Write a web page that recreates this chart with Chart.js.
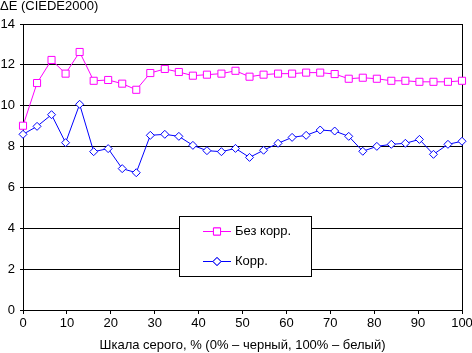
<!DOCTYPE html>
<html>
<head>
<meta charset="utf-8">
<script src="https://cdn.jsdelivr.net/npm/chart.js@4/dist/chart.umd.min.js"></script>
<style>
  html, body { margin: 0; padding: 0; background: #fff; }
  #wrap { width: 472px; height: 353px; }
</style>
</head>
<body>
<div id="wrap"><canvas id="chart" width="472" height="353"></canvas></div>
<script>
// уровни серого, % (32 шага)
const grayLevels = [0, 3.2, 6.5, 9.7, 12.9, 16.1, 19.4, 22.6, 25.8, 29.0, 32.3, 35.5,
  38.7, 41.9, 45.2, 48.4, 51.6, 54.8, 58.1, 61.3, 64.5, 67.7, 71.0, 74.2,
  77.4, 80.6, 83.9, 87.1, 90.3, 93.5, 96.8, 100];

// ΔE без коррекции
const noCorr = [9.02, 11.11, 12.24, 11.57, 12.63, 11.22, 11.26, 11.08, 10.78, 11.60, 11.80, 11.65,
  11.47, 11.52, 11.57, 11.71, 11.42, 11.52, 11.57, 11.57, 11.62, 11.62, 11.55, 11.32,
  11.37, 11.32, 11.22, 11.22, 11.17, 11.17, 11.17, 11.22];

// ΔE с коррекцией
const withCorr = [8.60, 8.99, 9.56, 8.19, 10.07, 7.75, 7.90, 6.92, 6.72, 8.55, 8.60, 8.50,
  8.06, 7.80, 7.75, 7.91, 7.47, 7.82, 8.16, 8.45, 8.55, 8.81, 8.76, 8.50,
  7.77, 8.01, 8.11, 8.16, 8.35, 7.62, 8.11, 8.26];

const seriesNames = ["Без корр.", "Корр."];
const xTicks = [0, 10, 20, 30, 40, 50, 60, 70, 80, 90, 100];
const yTicks = [0, 2, 4, 6, 8, 10, 12, 14];

const FONT = "'Liberation Sans', Arial, sans-serif";

const pts = (vals) => vals.map((v, i) => ({ x: grayLevels[i], y: v }));

// легенда в рамке внутри области графика
const boxLegend = {
  id: "boxLegend",
  afterDraw(chart) {
    const ctx = chart.ctx;
    const bx = 179.5, by = 216.5, bw = 132, bh = 60;
    ctx.save();
    ctx.fillStyle = "#fff";
    ctx.fillRect(bx, by, bw, bh);
    ctx.strokeStyle = "#000";
    ctx.lineWidth = 1;
    ctx.strokeRect(bx, by, bw, bh);
    const rows = [231.5, 261.5];
    chart.data.datasets.forEach((ds, i) => {
      const y = rows[i];
      ctx.strokeStyle = ds.borderColor;
      ctx.lineWidth = 1;
      ctx.beginPath();
      ctx.moveTo(203, y);
      ctx.lineTo(231, y);
      ctx.stroke();
      Chart.helpers.drawPoint(ctx, {
        pointStyle: ds.pointStyle,
        radius: ds.pointRadius,
        borderWidth: 1,
        rotation: 0
      }, 217, y);
      ctx.fillStyle = "#fff";
      ctx.fill();
      ctx.stroke();
      ctx.fillStyle = "#000";
      ctx.font = "13px " + FONT;
      ctx.textBaseline = "middle";
      ctx.textAlign = "left";
      ctx.fillText(ds.label, 235, y);
    });
    ctx.restore();
  }
};

new Chart(document.getElementById("chart"), {
  type: "line",
  data: {
    datasets: [
      {
        label: seriesNames[0],
        data: pts(noCorr),
        borderColor: "#ff00ff",
        borderWidth: 1,
        pointStyle: "rect",
        pointRadius: 5,
        pointBorderWidth: 1,
        pointBackgroundColor: "#fff",
        pointBorderColor: "#ff00ff",
        tension: 0,
        clip: false
      },
      {
        label: seriesNames[1],
        data: pts(withCorr),
        borderColor: "#0000ff",
        borderWidth: 1,
        pointStyle: "rectRot",
        pointRadius: 4,
        pointBorderWidth: 1,
        pointBackgroundColor: "#fff",
        pointBorderColor: "#0000ff",
        tension: 0,
        clip: false
      }
    ]
  },
  options: {
    responsive: false,
    animation: false,
    layout: { padding: { top: 0, right: 10, bottom: 0, left: 0 } },
    plugins: {
      legend: { display: false },
      tooltip: { enabled: false },
      title: {
        display: true,
        text: "ΔE (CIEDE2000)",
        align: "start",
        color: "#000",
        font: { family: FONT, size: 13, weight: "normal", lineHeight: 1 },
        padding: { top: 0, bottom: 11 }
      }
    },
    scales: {
      x: {
        type: "linear",
        min: 0,
        max: 100,
        afterBuildTicks(s) { s.ticks = xTicks.map(v => ({ value: v })); },
        afterFit(s) { s.height = 43; s.paddingLeft = 0; s.paddingRight = 0; },
        border: { display: true, color: "#000", width: 1 },
        grid: {
          drawOnChartArea: true,
          color: (c) => (c.tick && c.tick.value === 100 ? "#000" : "rgba(0,0,0,0)"),
          tickColor: "#000",
          tickLength: 4
        },
        ticks: {
          color: "#000",
          padding: 2,
          maxRotation: 0,
          font: { family: FONT, size: 13 }
        },
        title: {
          display: true,
          text: "Шкала серого, % (0% – черный, 100% – белый)",
          color: "#000",
          font: { family: FONT, size: 13 },
          padding: { top: 0, bottom: 0 }
        }
      },
      y: {
        min: 0,
        max: 14,
        afterBuildTicks(s) { s.ticks = yTicks.map(v => ({ value: v })); },
        afterFit(s) { s.width = 23; s.paddingTop = 0; s.paddingBottom = 0; },
        border: { display: true, color: "#000", width: 1 },
        grid: { color: "#000", tickColor: "#000", tickLength: 3 },
        ticks: {
          color: "#000",
          padding: 5,
          font: { family: FONT, size: 13 }
        }
      }
    }
  },
  plugins: [boxLegend]
});
</script>
</body>
</html>
